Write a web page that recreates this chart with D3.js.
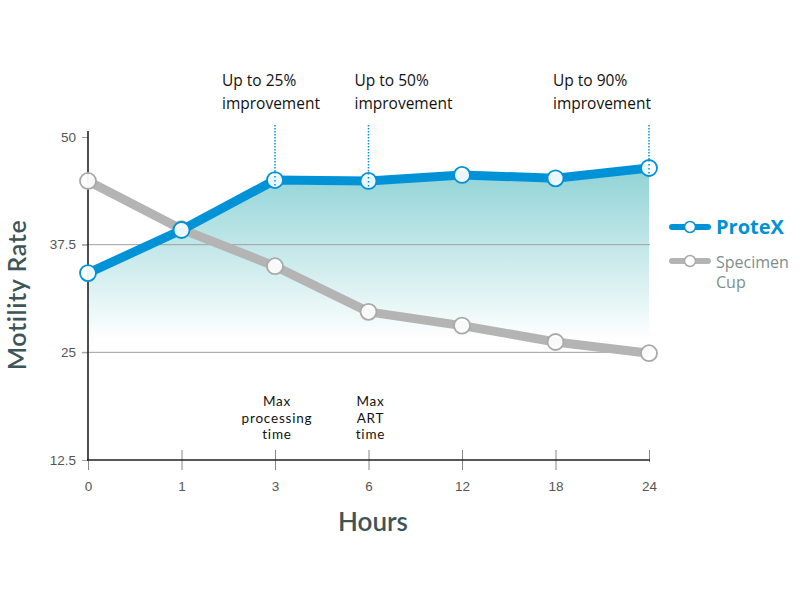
<!DOCTYPE html>
<meta charset="utf-8">
<style>
body { margin: 0; background: #fff; }
text { font-family: "Open Sans", Lato, sans-serif; }
</style>
<body>
<script src="https://d3js.org/d3.v7.min.js"></script>
<script>
// data
var hours = ["0", "1", "3", "6", "12", "18", "24"];
var protex = [34.2, 39.2, 45.0, 44.9, 45.6, 45.2, 46.4];
var specimen = [44.9, 39.3, 35.0, 29.7, 28.1, 26.2, 24.9];
var yTicks = [12.5, 25, 37.5, 50];
var gridTicks = [25, 37.5];
var notes = [
  {hour: "3", lines: ["Up to 25%", "improvement"]},
  {hour: "6", lines: ["Up to 50%", "improvement"]},
  {hour: "24", lines: ["Up to 90%", "improvement"]}
];
var markers = [
  {hour: "3", lines: ["Max", "processing", "time"]},
  {hour: "6", lines: ["Max", "ART", "time"]}
];

var blue = "#0092d6", grey = "#b4b4b4", slate = "#3e5558";
// how far left of its point each note text starts
var noteShift = {"3": -53, "6": -14, "24": -96};

var svg = d3.select("body").append("svg")
    .attr("width", 800)
    .attr("height", 601);

// scales
var x = d3.scalePoint().domain(hours).range([88, 649]);
var y = d3.scaleLinear().domain([12.5, 50]).range([460, 137]);

// gradient for the area under ProteX
var grad = svg.append("defs").append("linearGradient")
    .attr("id", "fade")
    .attr("x1", 0).attr("y1", 0).attr("x2", 0).attr("y2", 1);
grad.append("stop").attr("offset", "0%").attr("stop-color", "#8fd3d6");
grad.append("stop").attr("offset", "100%").attr("stop-color", "#ffffff");

var area = d3.area()
    .x(function(d, i) { return x(hours[i]); })
    .y0(y(26.4))
    .y1(function(d) { return y(d); });

svg.append("path")
    .datum(protex)
    .attr("fill", "url(#fade)")
    .attr("d", area);

// gridlines
svg.selectAll(".grid")
    .data(gridTicks)
  .enter().append("line")
    .attr("x1", 82).attr("x2", 650)
    .attr("y1", function(d) { return y(d); })
    .attr("y2", function(d) { return y(d); })
    .attr("stroke", "#a0a0a0")
    .attr("stroke-width", 1);

// y axis
var yAxis = svg.append("g")
    .attr("transform", "translate(88,0)")
    .call(d3.axisLeft(y).tickValues(yTicks).tickSize(6)
      .tickFormat(function(d) { return d; }));
yAxis.select(".domain").remove();
yAxis.selectAll(".tick line").attr("stroke", "#a0a0a0");
yAxis.selectAll("text")
    .attr("x", -12)
    .attr("fill", "#555")
    .style("font-family", "'Liberation Sans', Arial, sans-serif")
    .style("font-size", "13.5px");
svg.append("line")
    .attr("x1", 88).attr("x2", 88)
    .attr("y1", 131).attr("y2", 461)
    .attr("stroke", "#222").attr("stroke-width", 1.6);

// x axis
var xAxis = svg.append("g")
    .attr("transform", "translate(0,460)")
    .call(d3.axisBottom(x).tickSizeInner(10).tickSizeOuter(0));
xAxis.select(".domain").remove();
xAxis.selectAll(".tick line")
    .attr("y1", function(d) { return d === "0" ? 0 : -10; })
    .attr("y2", function(d) { return d === "24" ? 2 : 10; })
    .attr("stroke", "#888");
xAxis.selectAll("text")
    .attr("y", 21)
    .attr("fill", "#555")
    .style("font-family", "'Liberation Sans', Arial, sans-serif")
    .style("font-size", "13.5px");
svg.append("line")
    .attr("x1", 87).attr("x2", 650)
    .attr("y1", 460).attr("y2", 460)
    .attr("stroke", "#222").attr("stroke-width", 1.6);

// dotted annotation lines
svg.selectAll(".lead")
    .data(notes)
  .enter().append("line")
    .attr("x1", function(d) { return x(d.hour); })
    .attr("x2", function(d) { return x(d.hour); })
    .attr("y1", 125)
    .attr("y2", function(d) { return y(protex[hours.indexOf(d.hour)]) + 6; })
    .attr("stroke", blue)
    .attr("stroke-width", 1.5)
    .attr("stroke-dasharray", "1.5,1.5");

// lines
var line = d3.line()
    .x(function(d, i) { return x(hours[i]); })
    .y(function(d) { return y(d); });

function series(vals, color, ring) {
  svg.append("path")
      .datum(vals)
      .attr("fill", "none")
      .attr("stroke", color)
      .attr("stroke-width", 9)
      .attr("stroke-linejoin", "round")
      .attr("d", line);
  svg.selectAll(null)
      .data(vals)
    .enter().append("circle")
      .attr("cx", function(d, i) { return x(hours[i]); })
      .attr("cy", function(d) { return y(d); })
      .attr("r", 8)
      .attr("fill", "#fff")
      .attr("fill-opacity", 0.92)
      .attr("stroke", ring)
      .attr("stroke-width", 1.8);
}
series(specimen, grey, "#a9a9a9");
series(protex, blue, blue);

// redraw the dotted line tips over the circles
svg.selectAll(".tip")
    .data(notes)
  .enter().append("line")
    .attr("x1", function(d) { return x(d.hour); })
    .attr("x2", function(d) { return x(d.hour); })
    .attr("y1", function(d) { return y(protex[hours.indexOf(d.hour)]) - 8; })
    .attr("y2", function(d) { return y(protex[hours.indexOf(d.hour)]) + 6; })
    .attr("stroke", blue)
    .attr("stroke-width", 1.5)
    .attr("stroke-dasharray", "1.5,2.5");

// annotation texts
notes.forEach(function(n) {
  var tx = x(n.hour) + noteShift[n.hour];
  var t = svg.append("text")
      .attr("x", tx)
      .attr("y", 86)
      .attr("fill", "#111")
      .style("font-size", "15.5px");
  n.lines.forEach(function(l, i) {
    t.append("tspan").attr("x", tx).attr("dy", i ? 23 : 0).text(l);
  });
});

// one text per line so the tight line spacing stays readable
markers.forEach(function(m) {
  m.lines.forEach(function(l, i) {
    svg.append("text")
        .attr("x", x(m.hour) + 2)
        .attr("y", 406 + i * 16.5)
        .attr("text-anchor", "middle")
        .attr("fill", "#111")
        .style("font-family", "Lato, sans-serif")
        .style("font-size", "13.5px")
        .style("letter-spacing", "0.8px")
        .text(l);
  });
});

// axis titles
svg.append("text")
    .attr("transform", "translate(26,295) rotate(-90)")
    .attr("text-anchor", "middle")
    .attr("fill", slate)
    .style("font-family", "Lato, sans-serif")
    .style("font-size", "25px")
    .style("font-weight", 600)
    .style("letter-spacing", "0.6px")
    .text("Motility Rate");

svg.append("text")
    .attr("x", 373)
    .attr("y", 531)
    .attr("text-anchor", "middle")
    .attr("fill", slate)
    .style("font-family", "Lato, sans-serif")
    .style("font-size", "26px")
    .style("font-weight", 600)
    .text("Hours");

// legend
var legend = [
  {name: ["ProteX"], color: blue, ring: blue, text: blue, weight: 700, size: "20px", y: 227},
  {name: ["Specimen", "Cup"], color: grey, ring: "#a9a9a9", text: "#7e8e8e", weight: 400, size: "16px", y: 261}
];
legend.forEach(function(l) {
  svg.append("line")
      .attr("x1", 672).attr("x2", 708)
      .attr("y1", l.y).attr("y2", l.y)
      .attr("stroke", l.color).attr("stroke-width", 6)
      .attr("stroke-linecap", "round");
  svg.append("circle")
      .attr("cx", 690).attr("cy", l.y).attr("r", 5.5)
      .attr("fill", "#fff").attr("stroke", l.ring).attr("stroke-width", 1.5);
  var t = svg.append("text")
      .attr("x", 716)
      .attr("y", l.y + 7)
      .attr("fill", l.text)
      .style("font-size", l.size)
      .style("font-weight", l.weight);
  l.name.forEach(function(s, i) {
    t.append("tspan").attr("x", 716).attr("dy", i ? 20 : 0).text(s);
  });
});
</script>
</body>
